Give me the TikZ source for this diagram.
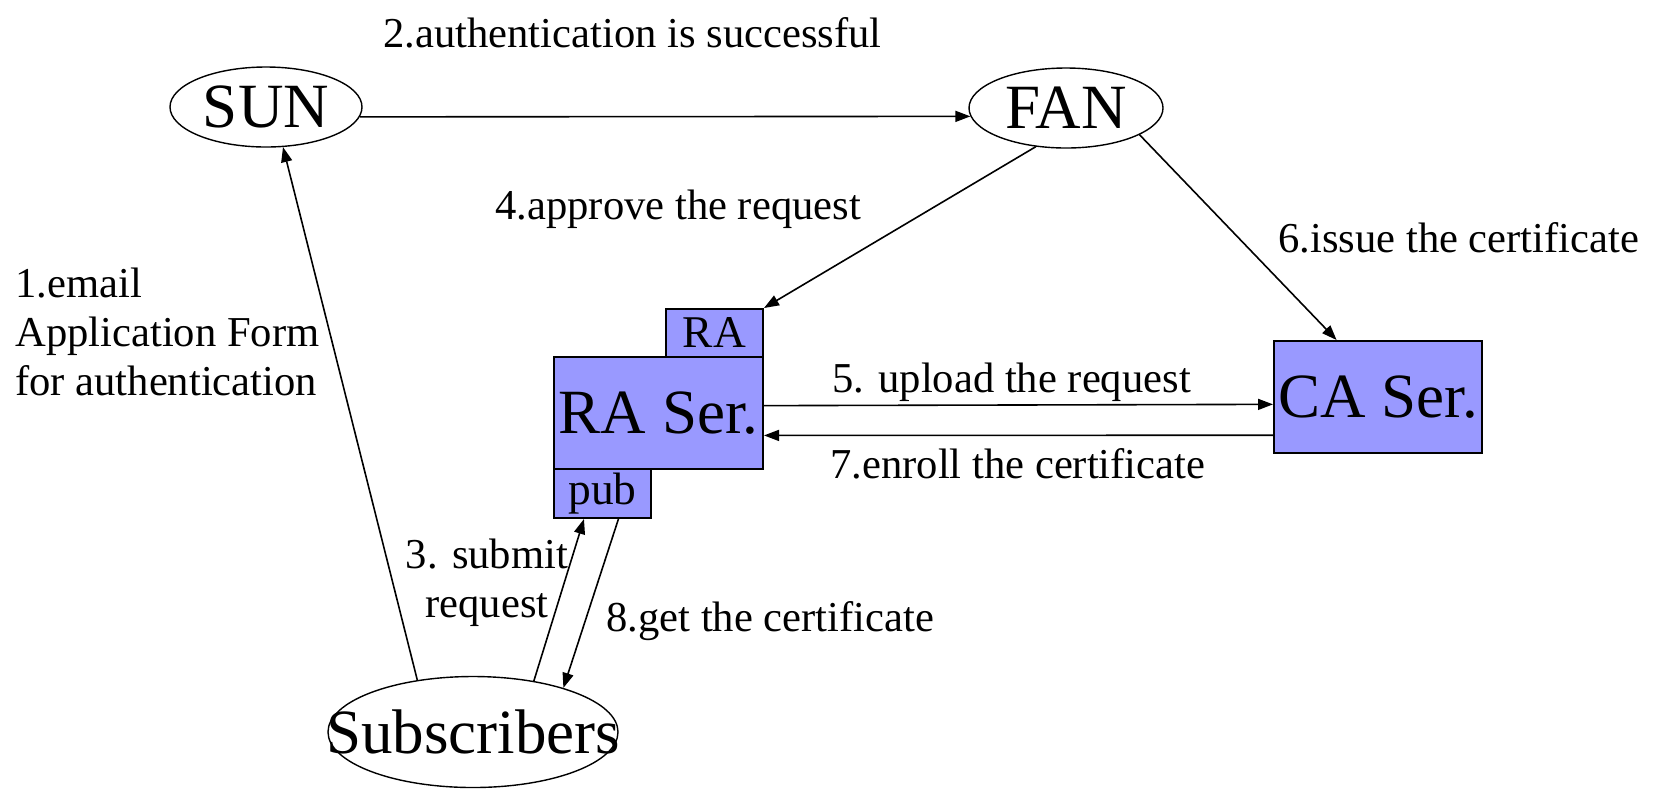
\documentclass[tikz,border=0pt]{standalone}
\usepackage{fontspec}
\setmainfont{Liberation Serif}
\usepackage{tikz}
\usetikzlibrary{arrows.meta,shapes.geometric}

\definecolor{serverblue}{HTML}{9999FF}

\begin{document}
\begin{tikzpicture}[x=0.5pt,y=-0.5pt,
  party/.style={draw,ellipse,line width=0.7pt,inner sep=0pt,
    font=\fontsize{31.5}{32}\selectfont},
  server/.style={draw,rectangle,fill=serverblue,line width=1pt,inner sep=0pt,
    font=\fontsize{31.5}{32}\selectfont},
  tab/.style={draw,rectangle,fill=serverblue,line width=1pt,inner sep=0pt,
    minimum width=48.5pt,font=\fontsize{22.7}{23}\selectfont},
  lbl/.style={inner sep=0pt,anchor=base west,font=\fontsize{21.3}{24.5}\selectfont},
  flow/.style={line width=0.8pt,-{Triangle[length=7.5pt,width=5.5pt]}}]

%%% HELP LINES - uncomment to design/extend
% \draw[step=100,gray,very thin] (0,0) grid (1658,789);

\useasboundingbox (0,0) rectangle (1658,789);

%% parties
\node[party,minimum width=96pt,minimum height=40pt] (sun) at (266,107) {SUN};
\node[party,minimum width=97pt,minimum height=40pt] (fan) at (1066,108) {FAN};
% text runs over the rim here, so keep it from widening the ellipse
\node[party,minimum width=145pt,minimum height=55.5pt] (subs) at (473,732)
  {\makebox[0pt]{Subscribers}};

%% servers
\node[server,minimum width=104.5pt,minimum height=56pt] (raser) at (658.5,413) {RA Ser.};
\node[tab,minimum height=24pt] (ra) at (714.5,333) {RA};
\node[tab,minimum height=24.5pt] (pub) at (602.5,493.5) {pub};
\node[server,minimum width=104pt,minimum height=56pt] (ca) at (1378,397) {CA Ser.};

% 1.email
\draw[flow] (subs.137) -- (sun.-67);
\node[lbl,align=left] (l1) at (15,395) {1.email\\Application Form\\for authentication};

% 2.authentication
\draw[flow] (sun.-6) -- (fan.185);
\node[lbl] (l2) at (383,47) {2.authentication is successful};

% 3.submit
\draw[flow] (subs.40) -- (pub.234.5);
\node[lbl,anchor=base,align=center] (l3) at (487,617) {3. submit\\request};

% 4.approve
\draw[flow] (fan.232) -- (ra.north east);
\node[lbl] (l4) at (495,219) {4.approve the request};

% 5.upload
\draw[flow] (raser.4.4) -- (ca.184.4);
\node[lbl] (l5) at (832,392) {5. upload the request};

% 6.issue
\draw[flow] (fan.-20) -- (ca.126);
\node[lbl] (l6) at (1278,252) {6.issue the certificate};

% 7.enroll
\draw[flow] (ca.200.6) -- (raser.-12.4);
\node[lbl] (l7) at (830,478) {7.enroll the certificate};

% 8.get
\draw[flow] (pub.302.3) -- (subs.26.6);
\node[lbl] (l8) at (606,631) {8.get the certificate};

\end{tikzpicture}
\end{document}
